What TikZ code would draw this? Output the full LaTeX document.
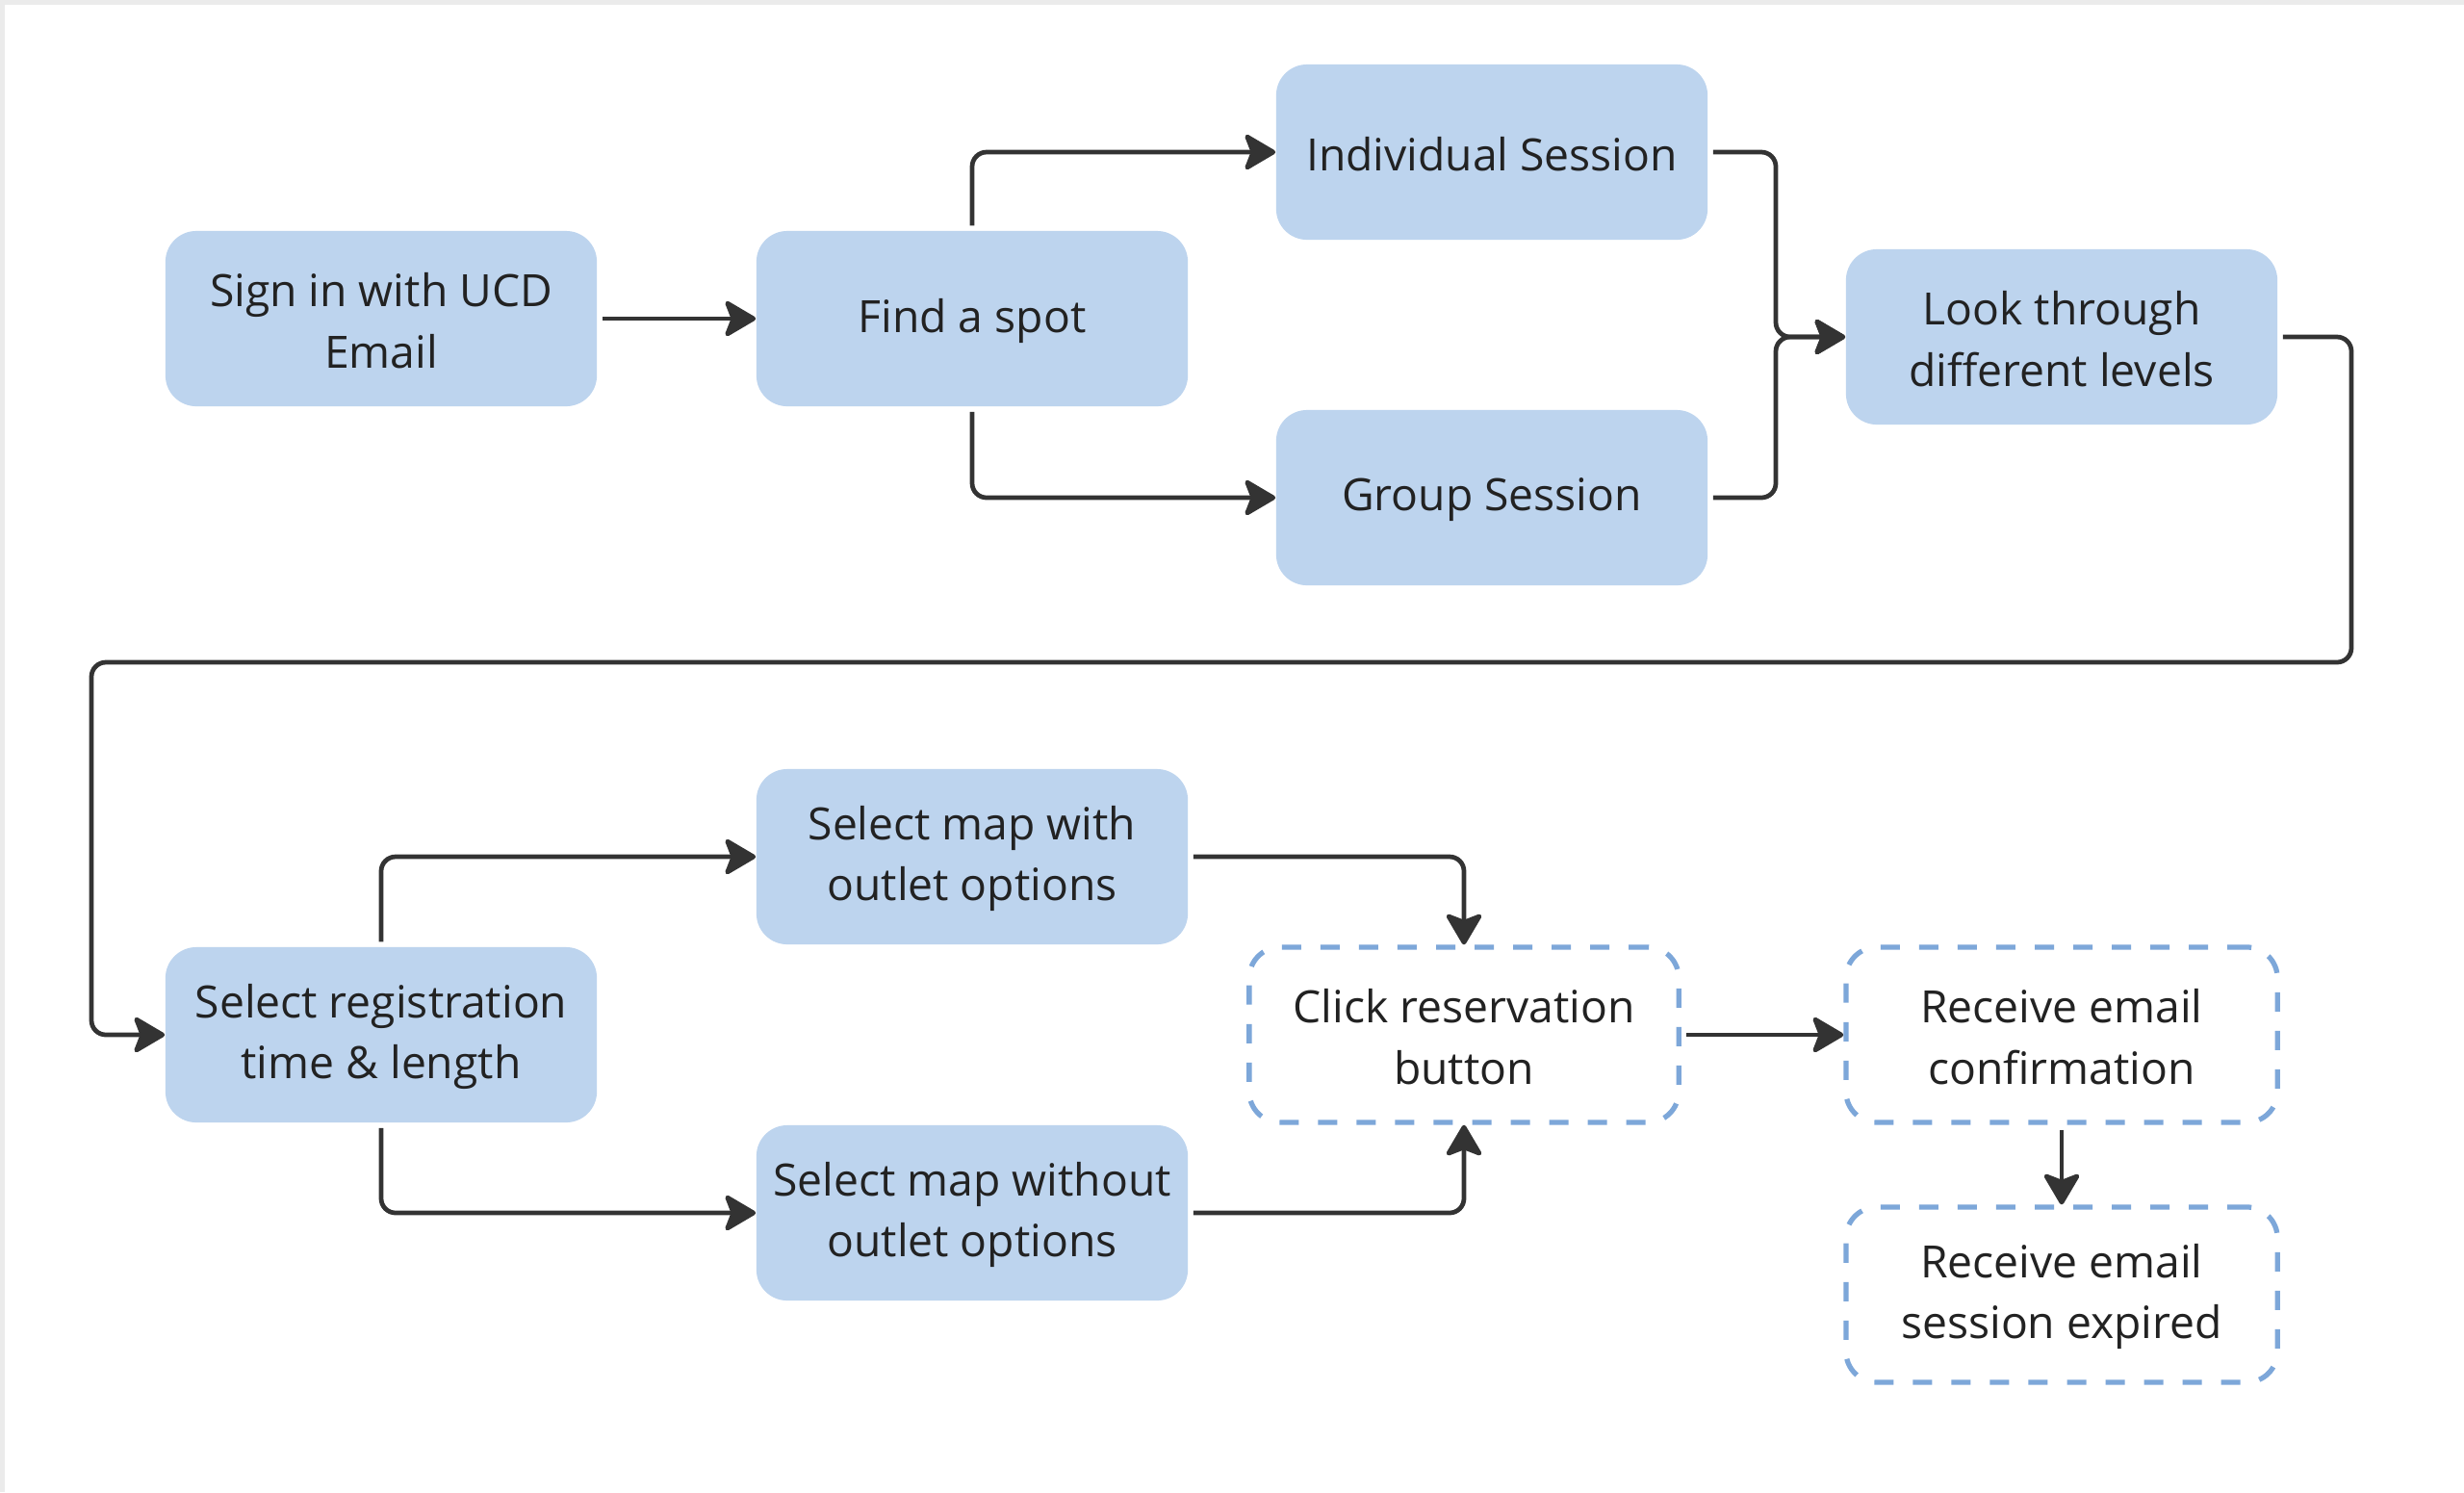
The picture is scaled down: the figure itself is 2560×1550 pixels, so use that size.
\documentclass[tikz,border=0pt]{standalone}
\usepackage{fontspec}
\setmainfont{Open Sans}
\usetikzlibrary{arrows.meta}
\definecolor{boxfill}{HTML}{BDD4EE}
\definecolor{dashc}{HTML}{7DA7D9}
\definecolor{linec}{HTML}{333333}
\definecolor{txtc}{HTML}{222222}
\definecolor{edgec}{HTML}{EBEBEB}
\begin{document}
\begin{tikzpicture}[x=0.01cm,y=-0.01cm,
  base/.style={rounded corners=0.32cm, minimum width=4.48cm, minimum height=1.82cm, inner sep=0pt},
  solidbox/.style={base, fill=boxfill},
  dashbox/.style={base, draw=dashc, line width=1.5pt, dash pattern=on 0.2cm off 0.2cm, fill=white},
  lbl/.style={align=center, text=txtc, font=\fontsize{13.15pt}{18.1pt}\selectfont, inner sep=0pt, yshift=-0.02cm},
  conn/.style={draw=linec, line width=1.35pt, rounded corners=0.15cm,
    -{Stealth[length=0.36cm, width=0.42cm, inset=0.08cm, round]}},
  gapout/.style={shorten <=0.05cm}
]
\useasboundingbox (0,0) rectangle (2560,1550);
\fill[white] (0,0) rectangle (2560,1550);
\draw[edgec, line width=1.5pt] (2,1550) -- (2,2) -- (2560,2);

\node[solidbox] (signin) at (396,331) {};
\node[solidbox] (find) at (1010,331) {};
\node[solidbox] (indiv) at (1550,158) {};
\node[solidbox] (group) at (1550,517) {};
\node[solidbox] (look) at (2142,350) {};
\node[solidbox] (reg) at (396,1075) {};
\node[solidbox] (mapw) at (1010,890) {};
\node[solidbox] (mapwo) at (1010,1260) {};
\node[dashbox, minimum width=4.46cm] (click) at (1521,1075) {};
\node[dashbox] (conf) at (2142,1075) {};
\node[dashbox] (exp) at (2142,1345) {};

\node[lbl] (tsignin) at (signin.center) {Sign in with UCD\\Email};
\node[lbl] (tfind) at (find.center) {Find a spot};
\node[lbl] (tindiv) at (indiv.center) {Individual Session};
\node[lbl] (tgroup) at (group.center) {Group Session};
\node[lbl] (tlook) at (look.center) {Look through\\different levels};
\node[lbl] (treg) at (reg.center) {Select registration\\time \& length};
\node[lbl] (tmapw) at (mapw.center) {Select map with\\outlet options};
\node[lbl] (tmapwo) at (mapwo.center) {Select map without\\outlet options};
\node[lbl] (tclick) at (click.center) {Click reservation\\button};
\node[lbl] (tconf) at (conf.center) {Receive email\\confirmation};
\node[lbl] (texp) at (exp.center) {Receive email\\session expired};

\coordinate (jn) at (1845,350);
\coordinate (lr) at (2443,688);
\coordinate (ll) at (95,688);

\draw[conn, gapout] (signin.east) -- (find.west);
\draw[conn, gapout] (find.north) |- (indiv.west);
\draw[conn, gapout] (find.south) |- (group.west);
\draw[conn, gapout] (indiv.east) -| (jn) -- (look.west);
\draw[conn, gapout] (group.east) -| (jn) -- (look.west);
\draw[conn, gapout] (look.east) -| (lr) -- (ll) |- (reg.west);
\draw[conn, gapout] (reg.north) |- (mapw.west);
\draw[conn, gapout] (reg.south) |- (mapwo.west);
\draw[conn, gapout] (mapw.east) -| (click.north);
\draw[conn, gapout] (mapwo.east) -| (click.south);
\draw[conn, gapout] (click.east) -- (conf.west);
\draw[conn, gapout] (conf.south) -- (exp.north);
\end{tikzpicture}
\end{document}
